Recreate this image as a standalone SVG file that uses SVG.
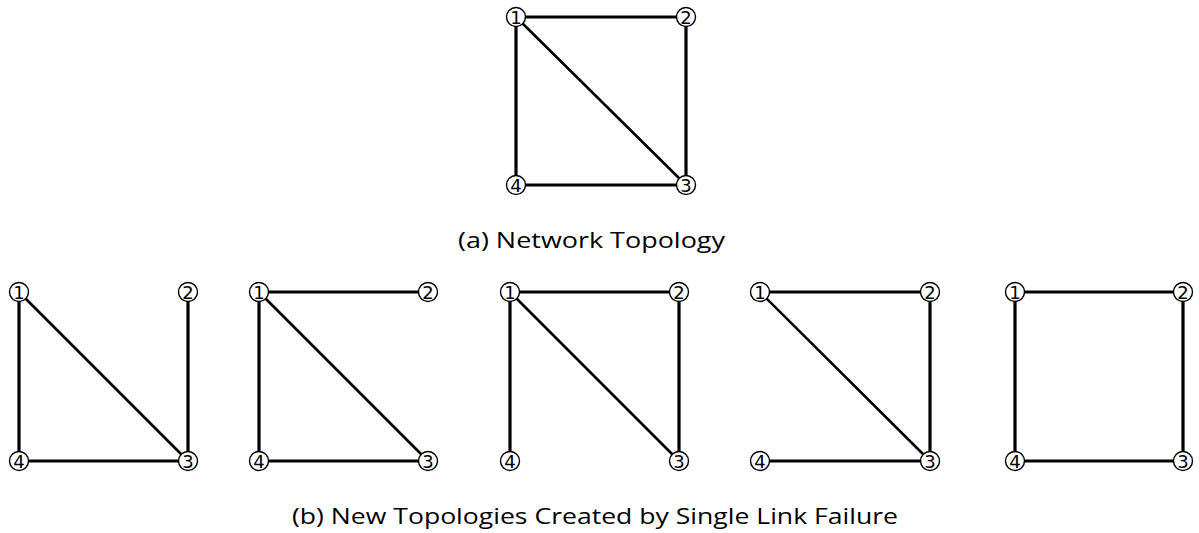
<svg xmlns="http://www.w3.org/2000/svg" width="1199" height="533" viewBox="0 0 1199 533">
<style>
.e{stroke:#000;stroke-width:3.2;fill:none;stroke-linecap:butt}
.d{stroke:#000;stroke-width:2.6;fill:none}
.bg{fill:#fff;stroke:#000;stroke-width:1.4}
.n{font-family:"DejaVu Sans","Liberation Sans",sans-serif;font-size:18px;text-anchor:middle;fill:#000}
.cap{font-family:"Open Sans","Noto Sans",sans-serif;font-size:22px;fill:#000;text-anchor:middle}
</style>
<defs>
<g id="c1"><circle class="bg" r="9.5"/><text class="n" y="7">1</text></g>
<g id="c2"><circle class="bg" r="9.5"/><text class="n" y="7">2</text></g>
<g id="c3"><circle class="bg" r="9.5"/><text class="n" y="7">3</text></g>
<g id="c4"><circle class="bg" r="9.5"/><text class="n" y="7">4</text></g>
</defs>
<rect width="1199" height="533" fill="#fff"/>
<g id="connectors">
<line class="e" x1="516" y1="17" x2="686" y2="17"/>
<line class="e" x1="516" y1="17" x2="516" y2="185"/>
<line class="e" x1="686" y1="17" x2="686" y2="185"/>
<line class="e" x1="516" y1="185" x2="686" y2="185"/>
<line class="d" x1="516" y1="17" x2="686" y2="185"/>
<line class="e" x1="19" y1="292" x2="19" y2="461"/>
<line class="e" x1="188" y1="292" x2="188" y2="461"/>
<line class="e" x1="19" y1="461" x2="188" y2="461"/>
<line class="d" x1="19" y1="292" x2="188" y2="461"/>
<line class="e" x1="259" y1="292" x2="428" y2="292"/>
<line class="e" x1="259" y1="292" x2="259" y2="461"/>
<line class="e" x1="259" y1="461" x2="428" y2="461"/>
<line class="d" x1="259" y1="292" x2="428" y2="461"/>
<line class="e" x1="510" y1="292" x2="679" y2="292"/>
<line class="e" x1="510" y1="292" x2="510" y2="461"/>
<line class="e" x1="679" y1="292" x2="679" y2="461"/>
<line class="d" x1="510" y1="292" x2="679" y2="461"/>
<line class="e" x1="760" y1="292" x2="930" y2="292"/>
<line class="e" x1="930" y1="292" x2="930" y2="461"/>
<line class="e" x1="760" y1="461" x2="930" y2="461"/>
<line class="d" x1="760" y1="292" x2="930" y2="461"/>
<line class="e" x1="1015" y1="292" x2="1183" y2="292"/>
<line class="e" x1="1015" y1="292" x2="1015" y2="461"/>
<line class="e" x1="1183" y1="292" x2="1183" y2="461"/>
<line class="e" x1="1015" y1="461" x2="1183" y2="461"/>
</g>
<g id="top-n1"><use href="#c1" x="516" y="17"/></g>
<g id="top-n2"><use href="#c2" x="686" y="17"/></g>
<g id="top-n3"><use href="#c3" x="686" y="185"/></g>
<g id="top-n4"><use href="#c4" x="516" y="185"/></g>
<g id="p1-n1"><use href="#c1" x="19" y="292"/></g>
<g id="p1-n2"><use href="#c2" x="188" y="292"/></g>
<g id="p1-n3"><use href="#c3" x="188" y="461"/></g>
<g id="p1-n4"><use href="#c4" x="19" y="461"/></g>
<g id="p2-n1"><use href="#c1" x="259" y="292"/></g>
<g id="p2-n2"><use href="#c2" x="428" y="292"/></g>
<g id="p2-n3"><use href="#c3" x="428" y="461"/></g>
<g id="p2-n4"><use href="#c4" x="259" y="461"/></g>
<g id="p3-n1"><use href="#c1" x="510" y="292"/></g>
<g id="p3-n2"><use href="#c2" x="679" y="292"/></g>
<g id="p3-n3"><use href="#c3" x="679" y="461"/></g>
<g id="p3-n4"><use href="#c4" x="510" y="461"/></g>
<g id="p4-n1"><use href="#c1" x="760" y="292"/></g>
<g id="p4-n2"><use href="#c2" x="930" y="292"/></g>
<g id="p4-n3"><use href="#c3" x="930" y="461"/></g>
<g id="p4-n4"><use href="#c4" x="760" y="461"/></g>
<g id="p5-n1"><use href="#c1" x="1015" y="292"/></g>
<g id="p5-n2"><use href="#c2" x="1183" y="292"/></g>
<g id="p5-n3"><use href="#c3" x="1183" y="461"/></g>
<g id="p5-n4"><use href="#c4" x="1015" y="461"/></g>
<g id="captions">
<text class="cap" x="591.5" y="248" textLength="267" lengthAdjust="spacingAndGlyphs">(a) Network Topology</text>
<text class="cap" x="595" y="524" textLength="606" lengthAdjust="spacingAndGlyphs">(b) New Topologies Created by Single Link Failure</text>
</g>
</svg>
